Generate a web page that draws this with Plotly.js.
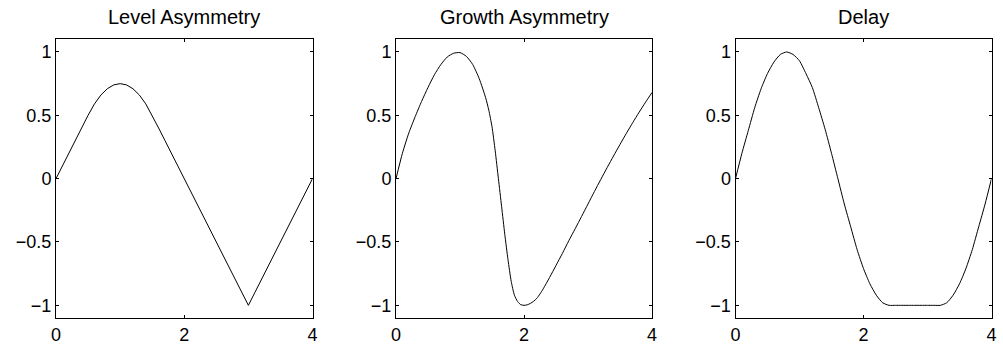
<!DOCTYPE html>
<html>
<head>
<meta charset="utf-8">
<script src="https://cdn.plot.ly/plotly-3.0.1.min.js"></script>
<style>
  html, body { margin: 0; padding: 0; background: #fff; }
  #chart { width: 1003px; height: 354px; }
</style>
</head>
<body>
<div id="chart"></div>
<script>
// ---- data ----
const panelTitles = ["Level Asymmetry", "Growth Asymmetry", "Delay"];

const xLevel = [0,0.1,0.2,0.3,0.4,0.5,0.6,0.7,0.8,0.9,1.0,1.1,1.2,1.3,1.4,1.5,1.6,1.7,1.8,1.9,2.0,
                2.1,2.2,2.3,2.4,2.5,2.6,2.7,2.8,2.9,3.0,3.1,3.2,3.3,3.4,3.5,3.6,3.7,3.8,3.9,4.0];
const yLevel = [0,0.10,0.21,0.31,0.41,0.50,0.59,0.66,0.71,0.74,0.75,0.74,0.71,0.66,0.59,0.50,0.40,0.30,0.20,0.10,0.0,
                -0.10,-0.20,-0.30,-0.40,-0.50,-0.60,-0.70,-0.80,-0.90,-1.0,-0.90,-0.80,-0.70,-0.60,-0.50,-0.40,-0.30,-0.20,-0.10,0.0];

const xGrowth = [0,0.1,0.2,0.3,0.4,0.5,0.6,0.7,0.8,0.9,1.0,1.1,1.2,1.3,1.4,1.45,1.5,1.55,1.6,1.65,1.7,1.75,1.8,1.85,1.9,1.95,2.0,
                 2.05,2.1,2.15,2.2,2.25,2.3,2.4,2.5,2.6,2.7,2.8,2.9,3.0,3.1,3.2,3.3,3.4,3.5,3.6,3.7,3.8,3.9,4.0];
const yGrowth = [0,0.20,0.36,0.49,0.61,0.72,0.82,0.90,0.96,0.99,0.995,0.965,0.90,0.79,0.64,0.54,0.41,0.22,0.0,-0.22,-0.44,-0.64,-0.81,-0.92,-0.97,-0.995,-1.0,
                 -0.996,-0.985,-0.968,-0.945,-0.91,-0.87,-0.78,-0.685,-0.59,-0.49,-0.395,-0.298,-0.20,-0.102,-0.006,0.088,0.18,0.27,0.358,0.443,0.525,0.604,0.68];

const xDelay = [0,0.1,0.2,0.3,0.4,0.5,0.6,0.7,0.8,0.9,1.0,1.1,1.2,1.3,1.4,1.5,1.6,1.7,1.8,1.9,2.0,
                2.1,2.2,2.3,2.4,2.5,2.6,2.7,2.8,2.9,3.0,3.1,3.2,3.3,3.4,3.5,3.6,3.7,3.8,3.9,4.0];
const yDelay = [0,0.20,0.38,0.56,0.71,0.83,0.92,0.98,1.0,0.98,0.93,0.83,0.72,0.56,0.39,0.20,0.0,-0.20,-0.38,-0.56,-0.71,
                -0.83,-0.92,-0.98,-1.0,-1.0,-1.0,-1.0,-1.0,-1.0,-1.0,-1.0,-1.0,-0.98,-0.92,-0.83,-0.71,-0.56,-0.38,-0.20,0.0];

const xTickVals = [0, 2, 4];
const xTickText = ["0", "2", "4"];
const yTickVals = [-1, -0.5, 0, 0.5, 1];
const yTickText = ["\u22121", "\u22120.5", "0", "0.5", "1"];

// ---- layout / drawing ----
const W = 1003, H = 354;
const panelPx = [[56, 312.5], [396, 652], [735.5, 991.5]];
const yDom = [(H - 318) / H, (H - 39.3) / H];
const font = "Liberation Sans, Arial, Helvetica, sans-serif";

const series = [[xLevel, yLevel, 'linear'], [xGrowth, yGrowth, 'spline'], [xDelay, yDelay, 'spline']];
const traces = series.map((s, i) => ({
  x: s[0], y: s[1], type: 'scatter', mode: 'lines',
  line: { color: '#000', width: 1, shape: s[2], smoothing: 0.6 },
  xaxis: i === 0 ? 'x' : 'x' + (i + 1),
  yaxis: i === 0 ? 'y' : 'y' + (i + 1),
  hoverinfo: 'skip', showlegend: false
}));

const layout = {
  width: W, height: H,
  margin: { l: 0, r: 0, t: 0, b: 0 },
  paper_bgcolor: '#fff', plot_bgcolor: '#fff',
  font: { family: font, color: '#000', size: 18 },
  showlegend: false,
  annotations: []
};

panelPx.forEach((p, i) => {
  const sx = i === 0 ? '' : String(i + 1);
  layout['xaxis' + sx] = {
    domain: [p[0] / W, p[1] / W], range: [0, 4], anchor: 'y' + sx,
    tickmode: 'array', tickvals: xTickVals, ticktext: xTickText,
    ticks: 'inside', ticklen: 3, tickwidth: 1, tickcolor: '#000',
    showline: true, linecolor: '#000', linewidth: 1, mirror: 'allticks',
    showgrid: false, zeroline: false, fixedrange: true,
    tickfont: { family: font, size: 18, color: '#000' }
  };
  layout['yaxis' + sx] = {
    domain: yDom, range: [-1.1, 1.1], anchor: 'x' + sx,
    tickmode: 'array', tickvals: yTickVals, ticktext: yTickText,
    ticks: 'inside', ticklen: 3, tickwidth: 1, tickcolor: '#000',
    showline: true, linecolor: '#000', linewidth: 1, mirror: 'allticks',
    showgrid: false, zeroline: false, fixedrange: true,
    tickfont: { family: font, size: 18, color: '#000' }
  };
  layout.annotations.push({
    text: panelTitles[i], xref: 'paper', yref: 'paper',
    x: (p[0] + p[1]) / 2 / W, y: (H - 30) / H,
    xanchor: 'center', yanchor: 'bottom', showarrow: false,
    font: { family: font, size: 20, color: '#000' }
  });
});

Plotly.newPlot('chart', traces, layout, { displayModeBar: false, staticPlot: true });
</script>
</body>
</html>
